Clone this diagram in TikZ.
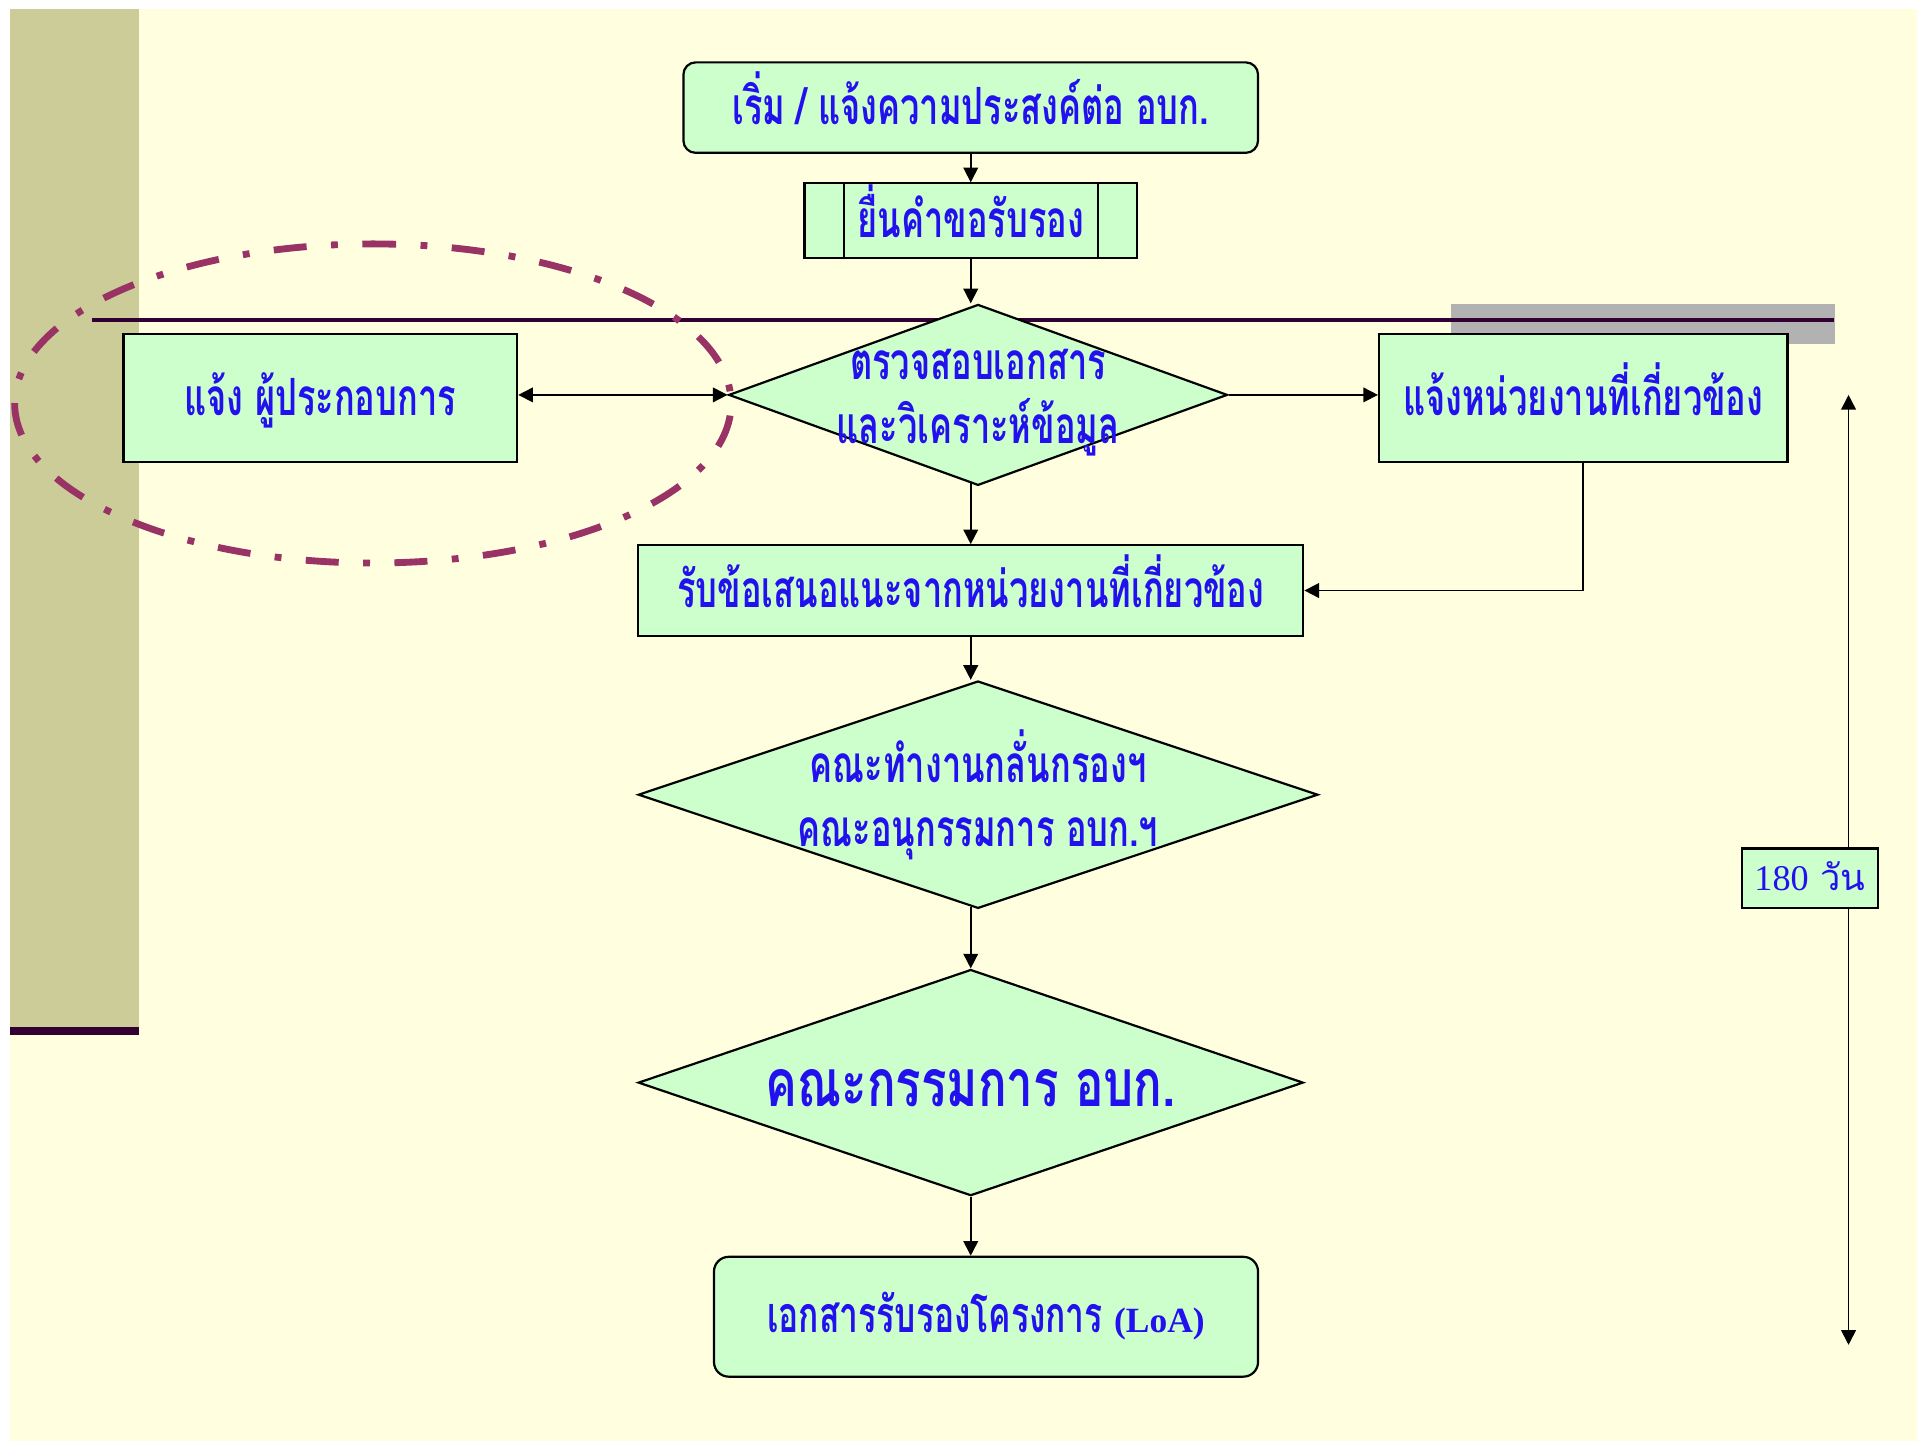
\documentclass[tikz,border=0pt]{standalone}
\usepackage{fontspec}
\newfontfamily\thai[Script=Thai,FakeStretch=0.67]{Loma}
\newfontfamily\thaiwide[Script=Thai,FakeStretch=0.72]{Loma}
\newfontfamily\thaireg[Script=Thai]{Loma}
\newfontfamily\lser{Liberation Serif}
\usetikzlibrary{shapes.geometric,arrows.meta,calc}
\definecolor{bgyellow}{RGB}{255,255,224}
\definecolor{olivebar}{RGB}{204,204,153}
\definecolor{darkp}{RGB}{51,0,51}
\definecolor{greybar}{RGB}{178,178,178}
\definecolor{ellcol}{RGB}{153,51,102}
\definecolor{boxgreen}{RGB}{204,255,204}
\definecolor{txtblue}{RGB}{34,17,238}
\begin{document}
\begin{tikzpicture}[x=0.5pt,y=-0.5pt,
  shp/.style={draw=black,line width=0.9pt,fill=boxgreen,inner sep=0pt,text=txtblue,align=center},
  boxn/.style={shp,rectangle},
  rboxn/.style={shp,rectangle,rounded corners=5pt},
  dian/.style={shp,diamond},
  lbl/.style={text=txtblue,align=center,inner sep=0pt},
  tA/.style={font=\thai\bfseries\fontsize{21}{25}\selectfont,text height=17pt,text depth=3pt},
  tE/.style={font=\thai\bfseries\fontsize{20.5}{25}\selectfont,text height=15pt,text depth=2pt},
  tC/.style={font=\thaiwide\bfseries\fontsize{27}{30}\selectfont,text height=20pt,text depth=3pt},
  arr/.style={line width=0.7pt,-{Triangle[length=6pt,width=6pt]}},
  darr/.style={line width=0.7pt,{Triangle[length=6pt,width=6pt]}-{Triangle[length=6pt,width=6pt]}}
]
\useasboundingbox (0,0) rectangle (1568,1180);
% background
\fill[bgyellow] (8,7) rectangle (1568,1179);
\fill[olivebar] (8,7) rectangle (113.5,840);
\fill[darkp] (8,840) rectangle (113.5,846.5);
\fill[greybar] (1187,249) rectangle (1501,281);
\draw[darkp,line width=1.5pt] (75,262) -- (1500,262);

% day span arrow
\coordinate (dtop) at (1512,323);
\coordinate (dbot) at (1512,1100);
\draw[darr] (dtop) -- (dbot);

% nodes
\node[rboxn,tA,minimum width=235pt,minimum height=37pt] (start) at (794,88) {เริ่ม / แจ้งความประสงค์ต่อ อบก.};
\node[boxn,tA,minimum width=136pt,minimum height=30.5pt] (proc) at (794,180.5) {ยื่นคำขอรับรอง};
\draw[line width=0.9pt] ($(proc.north west)+(16.5pt,0)$) -- ($(proc.south west)+(16.5pt,0)$);
\draw[line width=0.9pt] ($(proc.north east)+(-16.5pt,0)$) -- ($(proc.south east)+(-16.5pt,0)$);
\node[dian,minimum width=204pt,minimum height=74pt] (d1) at (800,323) {};
\node[lbl,tA] (d1a) at (800,296) {ตรวจสอบเอกสาร};
\node[lbl,tA] (d1b) at (800,349) {และวิเคราะห์ข้อมูล};
\node[boxn,tA,minimum width=161pt,minimum height=52.5pt] (lbox) at (262,325.5) {แจ้ง ผู้ประกอบการ};
\node[boxn,tA,minimum width=167pt,minimum height=52.5pt] (rbox) at (1295,325.5) {แจ้งหน่วยงานที่เกี่ยวข้อง};
\node[boxn,tA,minimum width=272pt,minimum height=37pt] (box3) at (794,483) {รับข้อเสนอแนะจากหน่วยงานที่เกี่ยวข้อง};
\node[dian,minimum width=278pt,minimum height=93pt] (d2) at (800,650) {};
\node[lbl,tA] (d2a) at (800,626) {คณะทำงานกลั่นกรองฯ};
\node[lbl,tA] (d2b) at (800,678) {คณะอนุกรรมการ อบก.ฯ};
\node[dian,minimum width=272pt,minimum height=92.5pt] (d3) at (794,885.5) {};
\node[lbl,tC] (d3t) at (794,888) {คณะกรรมการ อบก.};
\node[rboxn,tE,rounded corners=6pt,minimum width=222.5pt,minimum height=49pt] (endn) at (806.5,1077) {เอกสารรับรองโครงการ {\lser\bfseries\fontsize{14.5}{18}\selectfont(LoA)}};
\node[boxn,font=\fontsize{14.8}{18}\selectfont,text height=11.8pt,text depth=2pt,minimum width=55.5pt,minimum height=24.5pt] (days) at (1480.5,718.5) {{\lser 180} {\thaireg วัน}};

% connectors
\draw[arr] (start.south) -- (proc.north);
\draw[arr] (proc.south) -- (proc.south |- d1.north);
\draw[darr] (lbox.east |- d1.west) -- (d1.west);
\draw[arr] (d1.east) -- (d1.east -| rbox.west);
\draw[arr] ($(box3.north |- d1.south)+(0,-2.5)$) -- (box3.north);
\draw[arr] (rbox.south) |- (box3.east);
\draw[arr] (box3.south) -- (box3.south |- d2.north);
\draw[arr] ($(d3.north |- d2.south)+(0,-2)$) -- (d3.north);
\draw[arr] (d3.south) -- (d3.south |- endn.north);

% highlight ellipse
\coordinate (ec) at (305,330);
\draw[ellcol,line width=2.8pt,dash pattern=on 13.5pt off 10pt on 2.8pt off 10pt,dash phase=4pt]
  ($(ec)+(0,-130.5)$) arc [start angle=-90, end angle=270, x radius=293, y radius=130.5];
\end{tikzpicture}
\end{document}
